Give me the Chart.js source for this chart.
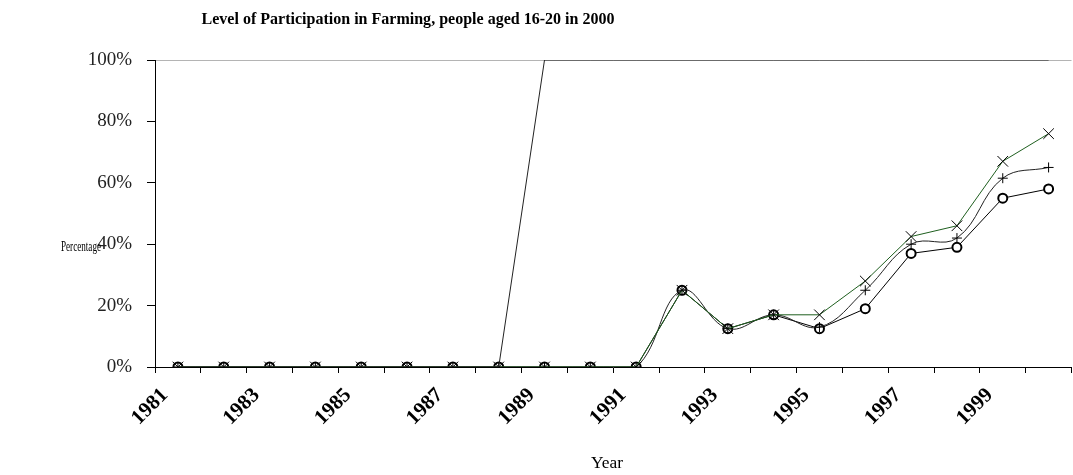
<!DOCTYPE html>
<html>
<head>
<meta charset="utf-8">
<script src="https://cdn.jsdelivr.net/npm/chart.js@4"></script>
<style>
  html, body { margin: 0; padding: 0; background: #fff; overflow: hidden; }
  #wrap { width: 1080px; height: 475px; }
</style>
</head>
<body>
<div id="wrap"><canvas id="chart" width="1080" height="475"></canvas></div>
<script>
  const chartTitle = 'Level of Participation in Farming, people aged 16-20 in 2000';
  const yTitle = 'Percentage';
  const xTitle = 'Year';

  const years = ['1981', '1982', '1983', '1984', '1985', '1986', '1987', '1988', '1989', '1990',
                 '1991', '1992', '1993', '1994', '1995', '1996', '1997', '1998', '1999', '2000'];
  const yTicks = [0, 20, 40, 60, 80, 100];

  // values in percent
  const everParticipated = [0, 0, 0, 0, 0, 0, 0, 0, 100, 100, 100, 100, 100, 100, 100, 100, 100, 100, 100, 100];
  const circleValues = [0, 0, 0, 0, 0, 0, 0, 0, 0, 0, 0, 25, 12.5, 17, 12.5, 19, 37, 39, 55, 58];
  const plusValues = [0, 0, 0, 0, 0, 0, 0, 0, 0, 0, 0, 25, 12.5, 17, 13, 25, 40, 42, 61.5, 65];
  const crossValues = [0, 0, 0, 0, 0, 0, 0, 0, 0, 0, 0, 25, 12.5, 17, 17, 28, 42.5, 46, 67, 76];

  const serif = '"Liberation Serif", "Times New Roman", serif';

  function drawFitted(ctx, text, font, cx, baseline, width) {
    ctx.save();
    ctx.font = font;
    const w = ctx.measureText(text).width;
    ctx.translate(cx, baseline);
    ctx.scale(width / w, 1);
    ctx.textAlign = 'center';
    ctx.textBaseline = 'alphabetic';
    ctx.fillStyle = '#000';
    ctx.fillText(text, 0, 0);
    ctx.restore();
  }

  const freeTitles = {
    id: 'freeTitles',
    afterDraw(chart) {
      const ctx = chart.ctx;
      drawFitted(ctx, chartTitle, 'bold 17px ' + serif, 408, 24, 413);
      drawFitted(ctx, yTitle, '15px ' + serif, 81, 251, 40);
      drawFitted(ctx, xTitle, '17px ' + serif, 607, 468, 32);
    }
  };

  new Chart(document.getElementById('chart').getContext('2d'), {
    type: 'line',
    data: {
      labels: years,
      datasets: [
        {
          label: 'All',
          data: everParticipated,
          borderColor: '#222',
          borderWidth: 1,
          pointRadius: 0,
          tension: 0,
        },
        {
          label: 'Cross',
          data: crossValues,
          borderColor: '#1f5f1f',
          borderWidth: 1,
          pointStyle: 'crossRot',
          pointRadius: 7.5,
          pointBorderColor: '#000',
          pointBorderWidth: 1,
          tension: 0,
        },
        {
          label: 'Plus',
          data: plusValues,
          borderColor: '#222',
          borderWidth: 1,
          pointStyle: 'cross',
          pointRadius: 5,
          pointBorderColor: '#000',
          pointBorderWidth: 1,
          tension: 0.4,
        },
        {
          label: 'Circle',
          data: circleValues,
          borderColor: '#000',
          borderWidth: 1,
          pointStyle: 'circle',
          pointRadius: 4.5,
          pointBorderColor: '#000',
          pointBackgroundColor: '#fff',
          pointBorderWidth: 2,
          tension: 0,
        },
      ]
    },
    options: {
      responsive: false,
      animation: false,
      devicePixelRatio: 1,
      layout: { padding: { top: 60, left: 0, right: 0, bottom: 0 } },
      scales: {
        x: {
          offset: true,
          afterFit: (scale) => { scale.height = 108; },
          grid: {
            offset: true,
            drawOnChartArea: false,
            drawTicks: true,
            tickLength: 6,
            tickColor: '#000',
          },
          border: { color: '#000', width: 1 },
          ticks: {
            autoSkip: false,
            minRotation: 45,
            maxRotation: 45,
            padding: 10,
            labelOffset: -13,
            color: '#000',
            font: { family: serif, size: 21, weight: 'bold' },
            callback: function (value, index) {
              return index % 2 === 0 ? this.getLabelForValue(value) : '';
            }
          }
        },
        y: {
          min: 0,
          max: 100,
          afterFit: (scale) => { scale.width = 155; },
          afterBuildTicks: (scale) => { scale.ticks = yTicks.map(v => ({ value: v })); },
          grid: {
            color: (c) => (c.tick && c.tick.value === 100 ? '#b4b4b4' : 'rgba(0,0,0,0)'),
            tickColor: '#000',
            tickLength: 8,
          },
          border: { color: '#000', width: 1 },
          ticks: {
            padding: 15,
            color: '#222',
            font: { family: serif, size: 19 },
            callback: (v) => v + '%'
          }
        }
      },
      plugins: {
        legend: { display: false },
        title: { display: false },
        tooltip: { enabled: false }
      }
    },
    plugins: [freeTitles]
  });
</script>
</body>
</html>
